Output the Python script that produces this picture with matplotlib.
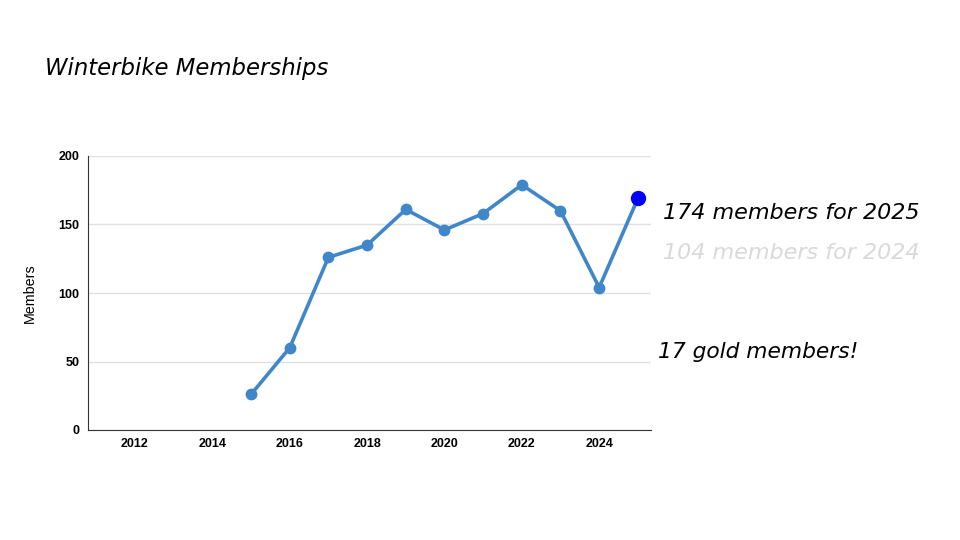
import matplotlib
matplotlib.use("Agg")
import matplotlib.pyplot as plt

years = [2015, 2016, 2017, 2018, 2019, 2020, 2021, 2022, 2023, 2024]
members = [26, 60, 126, 135, 161, 146, 158, 179, 160, 104]
last_year = 2025
last_members = 169
x_ticks = [2012, 2014, 2016, 2018, 2020, 2022, 2024]
y_ticks = [0, 50, 100, 150, 200]

title = "Winterbike Memberships"
note_current = "174 members for 2025"
note_previous = "104 members for 2024"
note_gold = "17 gold members!"

fig = plt.figure(figsize=(9.6, 5.4), dpi=100)
ax = fig.add_axes([88/960, 110/540, 563/960, 274/540])

line_color = "#3f87c9"
ax.plot(years + [last_year], members + [last_members], color=line_color, lw=2.6,
        marker="o", ms=7.5, zorder=3, solid_capstyle="round")
ax.plot([last_year], [last_members], marker="o", ms=10, color="#0000ff", zorder=4, ls="none")

ax.set_xlim(2010.785, 2025.34)
ax.set_ylim(0, 200)
ax.set_xticks(x_ticks)
ax.set_yticks(y_ticks)
ax.set_xticklabels([str(t) for t in x_ticks], fontsize=9, fontweight="bold", family="Liberation Sans")
ax.set_yticklabels([str(t) for t in y_ticks], fontsize=9, fontweight="bold", family="Liberation Sans")
ax.tick_params(length=0, pad=6)
ax.grid(axis="y", color="#e0e0e0", lw=1)
ax.set_axisbelow(True)
for s in ["top", "right"]:
    ax.spines[s].set_visible(False)
ax.spines["left"].set_color("#333333")
ax.spines["bottom"].set_color("#333333")
ax.set_ylabel("Members", fontsize=10.3, family="Liberation Sans", labelpad=16)

hand = dict(family="DejaVu Sans", style="italic")
fig.text(45/960, 1 - 68/540, title, fontsize=16.4, va="center", ha="left", **hand)
fig.text(663/960, 1 - 213/540, note_current, fontsize=16.0, va="center", ha="left", color="black", **hand)
fig.text(663/960, 1 - 253/540, note_previous, fontsize=16.0, va="center", ha="left", color="#d9d9d9", **hand)
fig.text(658/960, 1 - 352/540, note_gold, fontsize=15.7, va="center", ha="left", color="black", **hand)

fig.savefig("out.png", dpi=100)
